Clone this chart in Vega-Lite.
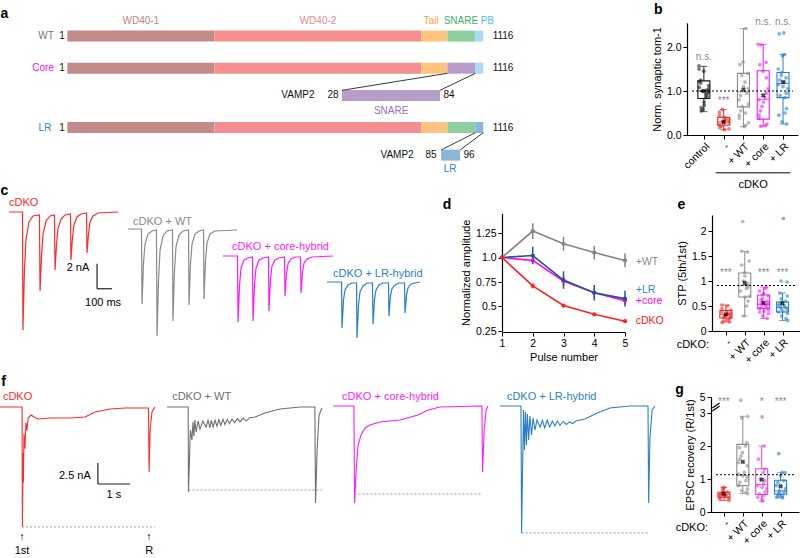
{
"$schema": "https://vega.github.io/schema/vega-lite/v6.json",
"width": 800, "height": 558,
"autosize": {"type": "none"},
"padding": 0,
"background": "white",
"config": {
  "view": {"stroke": null},
  "font": "Liberation Sans",
  "axis": {"grid": false, "domainColor": "#000", "tickColor": "#000", "labelColor": "#000", "titleColor": "#000", "labelFont": "Liberation Sans", "titleFont": "Liberation Sans", "labelFontSize": 10.5, "titleFontSize": 11, "titleFontWeight": "normal", "tickSize": 4, "labelPadding": 2, "titlePadding": 4, "domainWidth": 1.2, "tickWidth": 1, "labelOverlap": false, "labelFlush": false},
  "text": {"font": "Liberation Sans"}
},
"datasets": {
  "segs": [
    {"part":"WD40-1","row":0.97,"s":1,"e":395},
    {"part":"WD40-2","row":0.97,"s":395,"e":950},
    {"part":"Tail","row":0.97,"s":950,"e":1020},
    {"part":"SNARE","row":0.97,"s":1020,"e":1095},
    {"part":"PB","row":0.97,"s":1095,"e":1116},
    {"part":"WD40-1","row":1.97,"s":1,"e":395},
    {"part":"WD40-2","row":1.97,"s":395,"e":950},
    {"part":"Tail","row":1.97,"s":950,"e":1020},
    {"part":"VAMP2 SNARE","row":1.97,"s":1020,"e":1095},
    {"part":"PB","row":1.97,"s":1095,"e":1116},
    {"part":"VAMP2 SNARE","row":2.82,"s":737,"e":1000},
    {"part":"WD40-1","row":3.82,"s":1,"e":395},
    {"part":"WD40-2","row":3.82,"s":395,"e":950},
    {"part":"Tail","row":3.82,"s":950,"e":1020},
    {"part":"SNARE","row":3.82,"s":1020,"e":1095},
    {"part":"VAMP2 LR","row":3.82,"s":1095,"e":1116},
    {"part":"VAMP2 LR","row":4.68,"s":1003,"e":1054}
  ],
  "conn": [
    {"x0":1020,"y0":2.13,"x1":737,"y1":2.66},
    {"x0":1095,"y0":2.13,"x1":1000,"y1":2.66},
    {"x0":1095,"y0":3.98,"x1":1003,"y1":4.52},
    {"x0":1116,"y0":3.98,"x1":1054,"y1":4.52}
  ],
  "atext": [
    {"t":"WD40-1","x":198,"row":0.5,"k":"WD40-1"},
    {"t":"WD40-2","x":673,"row":0.5,"k":"WD40-2"},
    {"t":"Tail","x":976,"row":0.5,"k":"Tail"},
    {"t":"SNARE","x":1056,"row":0.5,"k":"SNARE"},
    {"t":"PB","x":1127,"row":0.5,"k":"PB"},
    {"t":"WT","x":-56,"row":0.97,"k":"WT"},
    {"t":"1","x":-13,"row":0.97,"k":"num"},
    {"t":"1116","x":1169,"row":0.97,"k":"num"},
    {"t":"Core","x":-64,"row":1.97,"k":"Core"},
    {"t":"1","x":-13,"row":1.97,"k":"num"},
    {"t":"1116","x":1169,"row":1.97,"k":"num"},
    {"t":"VAMP2","x":619,"row":2.82,"k":"num"},
    {"t":"28","x":713,"row":2.82,"k":"num"},
    {"t":"84","x":1024,"row":2.82,"k":"num"},
    {"t":"SNARE","x":869,"row":3.29,"k":"SNAREins"},
    {"t":"LR","x":-59,"row":3.82,"k":"LR"},
    {"t":"1","x":-13,"row":3.82,"k":"num"},
    {"t":"1116","x":1169,"row":3.82,"k":"num"},
    {"t":"VAMP2","x":885,"row":4.68,"k":"num"},
    {"t":"85","x":976,"row":4.68,"k":"num"},
    {"t":"96","x":1078,"row":4.68,"k":"num"},
    {"t":"LR","x":1027,"row":5.12,"k":"LRins"}
  ],
  "boxes": [
    {"panel":"b","grp":"control","idx":1,"lo":0.53,"q1":0.83,"med":1.0,"q3":1.23,"hi":1.56,"mean":1.0},
    {"panel":"b","grp":"-","idx":2,"lo":0.12,"q1":0.22,"med":0.3,"q3":0.4,"hi":0.58,"mean":0.3},
    {"panel":"b","grp":"+ WT","idx":3,"lo":0.19,"q1":0.64,"med":0.98,"q3":1.4,"hi":2.42,"mean":1.03},
    {"panel":"b","grp":"+ core","idx":4,"lo":0.2,"q1":0.36,"med":0.81,"q3":1.46,"hi":2.06,"mean":0.9},
    {"panel":"b","grp":"+ LR","idx":5,"lo":0.25,"q1":0.85,"med":1.17,"q3":1.42,"hi":1.83,"mean":1.2},
    {"panel":"e","grp":"-","idx":1,"lo":0.18,"q1":0.26,"med":0.33,"q3":0.41,"hi":0.52,"mean":0.33},
    {"panel":"e","grp":"+ WT","idx":2,"lo":0.3,"q1":0.68,"med":0.91,"q3":1.16,"hi":1.59,"mean":0.96},
    {"panel":"e","grp":"+ core","idx":3,"lo":0.25,"q1":0.45,"med":0.53,"q3":0.72,"hi":0.88,"mean":0.56},
    {"panel":"e","grp":"+ LR","idx":4,"lo":0.21,"q1":0.38,"med":0.47,"q3":0.58,"hi":0.76,"mean":0.55},
    {"panel":"g","grp":"-","idx":1,"lo":0.35,"q1":0.45,"med":0.53,"q3":0.6,"hi":0.75,"mean":0.55},
    {"panel":"g","grp":"+ WT","idx":2,"lo":0.56,"q1":0.8,"med":1.11,"q3":2.05,"hi":2.9,"mean":1.52},
    {"panel":"g","grp":"+ core","idx":3,"lo":0.33,"q1":0.53,"med":0.83,"q3":1.31,"hi":2.0,"mean":0.98},
    {"panel":"g","grp":"+ LR","idx":4,"lo":0.43,"q1":0.54,"med":0.64,"q3":0.96,"hi":1.19,"mean":0.78}
  ],
  "pts": [
    {"panel":"b","grp":"control","idx":1,"vals":[1.57,1.5,1.45,1.25,1.22,1.18,1.12,1.08,1.05,1.02,1.0,0.98,0.95,0.92,0.88,0.85,0.75,0.68,0.62,0.58,0.55]},
    {"panel":"b","grp":"-","idx":2,"vals":[0.58,0.52,0.45,0.4,0.36,0.35,0.33,0.3,0.28,0.26,0.24,0.2,0.17,0.14,0.12]},
    {"panel":"b","grp":"+ WT","idx":3,"vals":[2.42,1.66,1.6,1.4,1.35,1.2,1.1,1.05,0.95,0.9,0.8,0.7,0.65,0.55,0.5,0.45,0.38,0.28,0.22,0.19]},
    {"panel":"b","grp":"+ core","idx":4,"vals":[2.06,2.05,1.65,1.6,1.45,1.3,1.05,0.95,0.85,0.8,0.75,0.65,0.55,0.45,0.38,0.25,0.22,0.2]},
    {"panel":"b","grp":"+ LR","idx":5,"vals":[2.32,2.3,1.83,1.8,1.5,1.42,1.35,1.3,1.25,1.2,1.15,1.1,1.05,0.95,0.9,0.85,0.6,0.5,0.45,0.3,0.25]},
    {"panel":"e","grp":"-","idx":1,"vals":[0.52,0.5,0.45,0.42,0.4,0.38,0.36,0.35,0.33,0.32,0.3,0.28,0.27,0.25,0.22,0.2,0.18,0.17]},
    {"panel":"e","grp":"+ WT","idx":2,"vals":[2.19,1.6,1.58,1.4,1.32,1.17,1.1,1.0,0.95,0.92,0.88,0.85,0.8,0.7,0.68,0.6,0.5,0.3]},
    {"panel":"e","grp":"+ core","idx":3,"vals":[0.88,0.85,0.8,0.75,0.72,0.7,0.65,0.62,0.6,0.58,0.56,0.55,0.53,0.5,0.48,0.46,0.45,0.42,0.4,0.38,0.35,0.3,0.25]},
    {"panel":"e","grp":"+ LR","idx":4,"vals":[2.25,1.0,0.98,0.76,0.7,0.65,0.6,0.58,0.55,0.52,0.5,0.48,0.46,0.44,0.42,0.4,0.38,0.35,0.3,0.25,0.21]},
    {"panel":"g","grp":"-","idx":1,"vals":[0.75,0.72,0.65,0.6,0.58,0.55,0.52,0.5,0.47,0.45,0.42,0.38,0.35]},
    {"panel":"g","grp":"+ WT","idx":2,"vals":[4.6,2.9,2.85,2.1,2.0,1.95,1.8,1.7,1.6,1.5,1.4,1.2,1.15,1.1,1.05,0.95,0.9,0.8,0.7,0.65,0.6,0.56]},
    {"panel":"g","grp":"+ core","idx":3,"vals":[2.88,2.0,1.6,1.3,1.2,1.0,0.95,0.85,0.8,0.75,0.7,0.6,0.55,0.5,0.45,0.4,0.33]},
    {"panel":"g","grp":"+ LR","idx":4,"vals":[1.77,1.2,1.19,1.1,0.95,0.9,0.8,0.7,0.65,0.6,0.58,0.55,0.5,0.48,0.45,0.43]}
  ],
  "notes": [
    {"panel":"b","t":"n.s.","idx":1,"v":1.77},
    {"panel":"b","t":"***","idx":2,"v":0.78},
    {"panel":"b","t":"n.s.","idx":4,"v":2.57},
    {"panel":"b","t":"n.s.","idx":5,"v":2.57},
    {"panel":"e","t":"***","idx":1,"v":1.17},
    {"panel":"e","t":"***","idx":3,"v":1.17},
    {"panel":"e","t":"***","idx":4,"v":1.17},
    {"panel":"g","t":"***","idx":1,"v":4.4},
    {"panel":"g","t":"*","idx":3,"v":4.4},
    {"panel":"g","t":"***","idx":4,"v":4.4}
  ],
  "amp": [
    {"s":"+WT","p":[1,2,3,4,5],"m":[1,1.27,1.14,1.05,0.97],"e":[0,0.08,0.07,0.07,0.07]},
    {"s":"+core","p":[1,2,3,4,5],"m":[1,0.97,0.76,0.64,0.56],"e":[0,0.03,0.05,0.05,0.04]},
    {"s":"+LR","p":[1,2,3,4,5],"m":[1,1.02,0.77,0.64,0.58],"e":[0,0.09,0.09,0.08,0.08]},
    {"s":"cDKO","p":[1,2,3,4,5],"m":[1,0.71,0.51,0.42,0.35],"e":[0,0.025,0.012,0.01,0.01]}
  ],
  "dlab": [
    {"s":"+WT","v":0.95},
    {"s":"+LR","v":0.67},
    {"s":"+core","v":0.56},
    {"s":"cDKO","v":0.35}
  ],
  "ctr": [
    {"tr":"cDKO","t":[60,150,153,163,173,193,220,263,267,277,287,307,333,363,367,377,387,407,433,470,473,483,493,513,540,577,580,590,600,620,653,787],
     "i":[-3.36,-3.36,-12.8,-8.0,-5.6,-4.16,-3.68,-3.6,-9.68,-6.8,-5.12,-4.08,-3.68,-3.6,-8.0,-5.92,-4.64,-3.92,-3.6,-3.52,-7.2,-5.44,-4.4,-3.76,-3.52,-3.44,-6.64,-5.12,-4.16,-3.68,-3.44,-3.36]},
    {"tr":"cDKO + WT","t":[853,943,947,957,967,987,1013,1043,1047,1057,1067,1087,1113,1150,1153,1163,1173,1193,1220,1257,1260,1270,1280,1300,1327,1357,1360,1370,1380,1400,1433,1580],
     "i":[-4.72,-4.72,-10.72,-7.36,-5.92,-5.12,-4.88,-4.8,-13.28,-8.8,-6.4,-5.28,-4.88,-4.8,-12.08,-8.16,-6.16,-5.2,-4.88,-4.8,-10.8,-7.52,-5.92,-5.12,-4.88,-4.8,-10.32,-7.28,-5.84,-5.12,-4.88,-4.8]},
    {"tr":"cDKO + core-hybrid","t":[1487,1583,1587,1597,1607,1627,1653,1683,1687,1697,1707,1727,1753,1790,1793,1803,1813,1833,1860,1897,1900,1910,1920,1940,1967,2003,2007,2017,2027,2047,2080,2220],
     "i":[-6.88,-6.88,-12.16,-9.2,-7.84,-7.2,-7.04,-6.96,-12.08,-9.12,-7.84,-7.2,-7.04,-6.96,-11.28,-8.8,-7.68,-7.2,-7.04,-6.96,-10.08,-8.32,-7.52,-7.12,-6.96,-6.96,-9.84,-8.16,-7.44,-7.12,-6.96,-6.88]},
    {"tr":"cDKO + LR-hybrid","t":[2180,2277,2280,2290,2300,2320,2347,2377,2380,2390,2400,2420,2447,2483,2487,2497,2507,2527,2553,2590,2593,2603,2613,2633,2660,2697,2700,2710,2720,2740,2767,2800],
     "i":[-8.96,-8.96,-12.64,-10.4,-9.6,-9.2,-9.04,-9.04,-13.44,-10.8,-9.76,-9.28,-9.04,-9.04,-12.32,-10.32,-9.6,-9.2,-9.04,-9.04,-11.68,-10.08,-9.52,-9.2,-9.04,-9.04,-11.44,-10.0,-9.44,-9.12,-9.04,-8.96]}
  ],
  "clab": [
    {"tr":"cDKO","t":60,"i":-2.64},
    {"tr":"cDKO + WT","t":887,"i":-4.16},
    {"tr":"cDKO + core-hybrid","t":1547,"i":-6.16},
    {"tr":"cDKO + LR-hybrid","t":2220,"i":-8.32}
  ],
  "cbar": [
    {"x0":647,"x1":647,"y0":-7.5,"y1":-9.5},
    {"x0":647,"x1":747,"y0":-9.5,"y1":-9.5}
  ],
  "ctxt": [
    {"s":"2 nA","t":520,"i":-7.84},
    {"s":"100 ms","t":687,"i":-10.64}
  ],
  "ftr": [
    {"tr":"cDKO","t":[0,0.69,0.7,0.72,0.73,0.75,0.78,0.81,0.84,0.88,0.91,0.97,1.06,1.19,1.56,2.19,2.66,2.97,3.44,3.91,4.64,4.66,4.69,4.75,4.84],
     "i":[-2.02,-2.02,-16.31,-7.5,-11.0,-5.2,-7.0,-3.9,-4.8,-3.3,-3.21,-2.98,-3.21,-3.45,-3.33,-3.33,-3.21,-2.62,-2.26,-2.14,-2.14,-9.76,-4.76,-2.62,-2.02]},
    {"tr":"cDKO + WT","t":[5.22,5.88,5.89,5.92,5.95,6.0,6.03,6.06,6.09,6.13,6.19,6.25,6.34,6.44,6.5,6.56,6.6,6.66,6.72,6.78,6.84,6.9,6.97,7.03,7.1,7.17,7.25,7.33,7.42,7.5,7.6,7.7,7.8,7.97,8.28,8.75,9.38,9.84,9.86,9.91,9.97,10.06],
     "i":[-2.02,-2.02,-12.14,-8.33,-4.76,-5.95,-3.81,-5.48,-3.57,-5.0,-3.69,-4.64,-3.69,-4.4,-3.6,-4.5,-3.6,-4.4,-3.6,-4.3,-3.55,-4.2,-3.5,-4.1,-3.5,-4.0,-3.45,-3.9,-3.4,-3.8,-3.35,-3.7,-3.3,-3.21,-2.74,-2.26,-2.02,-2.02,-13.45,-7.14,-2.98,-2.14]},
    {"tr":"cDKO + core-hybrid","t":[10.41,11.06,11.08,11.13,11.19,11.28,11.41,11.56,11.88,12.5,13.06,13.38,13.75,15.06,15.08,15.13,15.19,15.25],
     "i":[-1.9,-1.9,-13.45,-9.52,-6.55,-5.36,-4.52,-4.17,-3.81,-3.57,-2.98,-2.38,-2.02,-1.9,-9.76,-4.76,-2.38,-1.9]},
    {"tr":"cDKO + LR-hybrid","t":[15.63,16.28,16.3,16.33,16.36,16.39,16.42,16.45,16.48,16.52,16.56,16.61,16.66,16.72,16.78,16.88,16.95,17.02,17.1,17.18,17.26,17.34,17.42,17.5,17.6,17.7,17.8,17.9,18.0,18.28,18.66,19.06,19.69,20.25,20.27,20.31,20.38,20.47],
     "i":[-1.9,-1.9,-17.02,-9.52,-2.38,-7.14,-2.62,-6.55,-2.86,-5.95,-3.1,-5.36,-3.33,-4.76,-3.57,-4.4,-3.6,-4.5,-3.6,-4.4,-3.7,-4.3,-3.7,-4.2,-3.75,-4.1,-3.8,-4.0,-3.7,-3.45,-2.74,-2.14,-1.9,-1.9,-13.45,-5.71,-2.38,-1.9]}
  ],
  "fdots": [
    {"tr":"cDKO","t0":0.69,"t1":4.84,"a":-16.31},
    {"tr":"cDKO + WT","t0":5.89,"t1":10.06,"a":-11.9},
    {"tr":"cDKO + core-hybrid","t0":11.08,"t1":15.06,"a":-12.38},
    {"tr":"cDKO + LR-hybrid","t0":16.3,"t1":20.25,"a":-17.02}
  ],
  "flab": [
    {"tr":"cDKO","t":0.09,"i":-0.83},
    {"tr":"cDKO + WT","t":5.38,"i":-0.83},
    {"tr":"cDKO + core-hybrid","t":10.69,"i":-0.83},
    {"tr":"cDKO + LR-hybrid","t":15.84,"i":-0.83}
  ],
  "fbar": [
    {"x0":3.06,"x1":3.06,"y0":-8.69,"y1":-11.19},
    {"x0":3.06,"x1":4.06,"y0":-11.19,"y1":-11.19}
  ],
  "ftxt": [
    {"s":"2.5 nA","t":2.34,"i":-10.24},
    {"s":"1 s","t":3.56,"i":-12.5},
    {"s":"↑","t":0.69,"i":-17.5},
    {"s":"1st","t":0.69,"i":-19.17},
    {"s":"↑","t":4.66,"i":-17.5},
    {"s":"R","t":4.66,"i":-19.17}
  ]
},
"resolve": {
  "scale": {"x": "independent", "y": "independent", "color": "independent", "fill": "independent", "stroke": "independent"},
  "axis": {"x": "independent", "y": "independent"},
  "legend": {"color": "independent", "fill": "independent"}
},
"layer": [
  {
    "layer": [
      {"data": {"name": "segs"}, "mark": {"type": "bar", "orient": "horizontal", "height": 11},
       "encoding": {
         "x": {"field": "s", "type": "quantitative", "scale": {"domain": [-179.6, 1482.6], "range": [0, 620], "nice": false, "zero": false}, "axis": null},
         "x2": {"field": "e"},
         "y": {"field": "row", "type": "quantitative", "scale": {"domain": [0, 5.3], "range": [0, 180], "nice": false, "zero": false}, "axis": null},
         "color": {"field": "part", "type": "nominal", "scale": {"domain": ["WD40-1","WD40-2","Tail","SNARE","PB","VAMP2 SNARE","VAMP2 LR"], "range": ["#c38a8a","#f58f8f","#fdc47f","#8fcf9f","#a8dbf7","#b79dca","#8cb5da"]}, "legend": null}
       }},
      {"data": {"name": "conn"}, "mark": {"type": "rule", "color": "#222", "strokeWidth": 0.9},
       "encoding": {"x": {"field": "x0", "type": "quantitative"}, "x2": {"field": "x1"}, "y": {"field": "y0", "type": "quantitative"}, "y2": {"field": "y1"}}},
      {"data": {"name": "atext"}, "mark": {"type": "text", "fontSize": 10, "baseline": "middle", "align": "center"},
       "encoding": {"x": {"field": "x", "type": "quantitative"}, "y": {"field": "row", "type": "quantitative"}, "text": {"field": "t"},
         "fill": {"field": "k", "type": "nominal", "scale": {"domain": ["WD40-1","WD40-2","Tail","SNARE","PB","WT","Core","LR","num","SNAREins","LRins"], "range": ["#c08585","#f28a8a","#f7a33a","#3cb36b","#4fc1f0","#777777","#ff00ff","#2f86d0","#111111","#9b6fbf","#2f86d0"]}, "legend": null}}},
      {"data": {"values": [{"t": "a"}]}, "mark": {"type": "text", "fontSize": 14, "fontWeight": "bold", "baseline": "middle", "align": "center"},
       "encoding": {"x": {"datum": -167.6}, "y": {"datum": 0.29}, "text": {"field": "t"}}}
    ]
  },
  {
    "layer": [
      {"data": {"name": "boxes"}, "transform": [{"filter": "datum.panel == 'b'"}], "mark": {"type": "rule", "strokeWidth": 1},
       "encoding": {
         "x": {"field": "idx", "type": "quantitative", "scale": {"domain": [0.4, 5.5], "range": [687, 797.9], "nice": false, "zero": false},
               "axis": {"orient": "bottom", "offset": -423, "values": [1,2,3,4,5], "labelExpr": "['','control','-','+ WT','+ core','+ LR'][datum.value]", "labelAngle": -45, "title": null}},
         "y": {"field": "lo", "type": "quantitative", "scale": {"domain": [0, 2.55], "range": [135, 22.8], "nice": false, "zero": false},
               "axis": {"orient": "left", "offset": -687, "values": [0,1,2], "title": "Norm. synaptic tom-1"}},
         "y2": {"field": "q1"},
         "color": {"field": "grp", "type": "nominal", "scale": {"domain": ["control","-","+ WT","+ core","+ LR"], "range": ["#1a1a1a","#f02828","#8c8c8c","#f21ef2","#2a7fca"]}, "legend": null}
       }},
      {"data": {"name": "boxes"}, "transform": [{"filter": "datum.panel == 'b'"}], "mark": {"type": "rule", "strokeWidth": 1},
       "encoding": {"x": {"field": "idx", "type": "quantitative"}, "y": {"field": "q3", "type": "quantitative"}, "y2": {"field": "hi"}, "color": {"field": "grp", "type": "nominal", "legend": null}}},
      {"data": {"name": "boxes"}, "transform": [{"filter": "datum.panel == 'b'"}, {"fold": ["lo", "hi"], "as": ["k", "w"]}], "mark": {"type": "tick", "orient": "horizontal", "size": 7, "thickness": 1},
       "encoding": {"x": {"field": "idx", "type": "quantitative"}, "y": {"field": "w", "type": "quantitative"}, "color": {"field": "grp", "type": "nominal", "legend": null}}},
      {"data": {"name": "boxes"}, "transform": [{"filter": "datum.panel == 'b'"}], "mark": {"type": "bar", "orient": "vertical", "width": 12, "filled": false, "strokeWidth": 1.1},
       "encoding": {"x": {"field": "idx", "type": "quantitative"}, "y": {"field": "q1", "type": "quantitative"}, "y2": {"field": "q3"}, "color": {"field": "grp", "type": "nominal", "legend": null}}},
      {"data": {"name": "boxes"}, "transform": [{"filter": "datum.panel == 'b'"}], "mark": {"type": "tick", "orient": "horizontal", "size": 12, "thickness": 1.2},
       "encoding": {"x": {"field": "idx", "type": "quantitative"}, "y": {"field": "med", "type": "quantitative"}, "color": {"field": "grp", "type": "nominal", "legend": null}}},
      {"data": {"name": "pts"}, "transform": [{"filter": "datum.panel == 'b'"}, {"flatten": ["vals"]}, {"calculate": "datum.idx + ((datum.vals * 71.37) % 1 - 0.5) * 0.55", "as": "xj"}],
       "mark": {"type": "circle", "size": 14, "opacity": 0.6},
       "encoding": {"x": {"field": "xj", "type": "quantitative"}, "y": {"field": "vals", "type": "quantitative"}, "color": {"field": "grp", "type": "nominal", "legend": null}}},
      {"data": {"name": "boxes"}, "transform": [{"filter": "datum.panel == 'b'"}], "mark": {"type": "point", "shape": "cross", "angle": 45, "size": 24, "filled": true, "color": "#000"},
       "encoding": {"x": {"field": "idx", "type": "quantitative"}, "y": {"field": "mean", "type": "quantitative"}}},
      {"data": {"values": [{"v": 1.0}]}, "mark": {"type": "rule", "strokeDash": [2, 2], "color": "#000", "strokeWidth": 1},
       "encoding": {"x": {"datum": 0.4}, "x2": {"datum": 5.5}, "y": {"field": "v", "type": "quantitative"}}},
      {"data": {"name": "notes"}, "transform": [{"filter": "datum.panel == 'b'"}], "mark": {"type": "text", "fontSize": 10, "color": "#8a8a8a", "baseline": "middle"},
       "encoding": {"x": {"field": "idx", "type": "quantitative"}, "y": {"field": "v", "type": "quantitative"}, "text": {"field": "t"}}},
      {"data": {"values": [{"t": "cDKO"}]}, "mark": {"type": "rule", "color": "#000", "strokeWidth": 1},
       "encoding": {"x": {"datum": 1.6}, "x2": {"datum": 5.37}, "y": {"datum": -0.86}}},
      {"data": {"values": [{"t": "cDKO"}]}, "mark": {"type": "text", "fontSize": 11, "baseline": "middle", "color": "#000"},
       "encoding": {"x": {"datum": 3.49}, "y": {"datum": -1.14}, "text": {"field": "t"}}},
      {"data": {"values": [{"t": "b"}]}, "mark": {"type": "text", "fontSize": 14, "fontWeight": "bold", "baseline": "middle", "align": "center"},
       "encoding": {"x": {"datum": -1.3}, "y": {"datum": 2.84}, "text": {"field": "t"}}}
    ]
  },
  {
    "layer": [
      {"data": {"name": "ctr"}, "transform": [{"flatten": ["t", "i"]}], "mark": {"type": "line", "strokeWidth": 1.2},
       "encoding": {
         "x": {"field": "t", "type": "quantitative", "scale": {"domain": [0, 2800], "range": [0, 420], "nice": false, "zero": false}, "axis": null},
         "y": {"field": "i", "type": "quantitative", "scale": {"domain": [-13.6, 0], "range": [340, 170], "nice": false, "zero": false}, "axis": null},
         "color": {"field": "tr", "type": "nominal", "scale": {"domain": ["cDKO","cDKO + WT","cDKO + core-hybrid","cDKO + LR-hybrid"], "range": ["#ff2a2a","#8a8a8a","#ff1aff","#2a7fc8"]}, "legend": null}
       }},
      {"data": {"name": "cbar"}, "mark": {"type": "rule", "color": "#222", "strokeWidth": 1.2},
       "encoding": {"x": {"field": "x0", "type": "quantitative"}, "x2": {"field": "x1"}, "y": {"field": "y0", "type": "quantitative"}, "y2": {"field": "y1"}}},
      {"data": {"name": "clab"}, "mark": {"type": "text", "fontSize": 11, "align": "left", "baseline": "middle"},
       "encoding": {"x": {"field": "t", "type": "quantitative"}, "y": {"field": "i", "type": "quantitative"}, "text": {"field": "tr"}, "color": {"field": "tr", "type": "nominal", "legend": null}}},
      {"data": {"name": "ctxt"}, "mark": {"type": "text", "fontSize": 11, "align": "center", "baseline": "middle", "color": "#000"},
       "encoding": {"x": {"field": "t", "type": "quantitative"}, "y": {"field": "i", "type": "quantitative"}, "text": {"field": "s"}}},
      {"data": {"values": [{"t": "c"}]}, "mark": {"type": "text", "fontSize": 14, "fontWeight": "bold", "baseline": "middle", "align": "center"},
       "encoding": {"x": {"datum": 30}, "y": {"datum": -1.68}, "text": {"field": "t"}}}
    ]
  },
  {
    "layer": [
      {"data": {"name": "amp"}, "transform": [{"flatten": ["p", "m", "e"]}, {"calculate": "datum.m - datum.e", "as": "lo"}, {"calculate": "datum.m + datum.e", "as": "hi"}],
       "mark": {"type": "rule", "strokeWidth": 1.5},
       "encoding": {
         "x": {"field": "p", "type": "quantitative", "scale": {"domain": [1, 5], "range": [502, 625], "nice": false, "zero": false},
               "axis": {"orient": "bottom", "offset": -226, "values": [1,2,3,4,5], "format": "d", "title": "Pulse number", "titlePadding": 3, "labelAngle": 0}},
         "y": {"field": "lo", "type": "quantitative", "scale": {"domain": [0.25, 1.45], "range": [331, 213.4], "nice": false, "zero": false},
               "axis": {"orient": "left", "offset": -502, "values": [0.25, 0.5, 0.75, 1, 1.25], "labelExpr": "datum.value == 1 ? '1.0' : toString(datum.value)", "title": "Normalized amplitude"}},
         "y2": {"field": "hi"},
         "color": {"field": "s", "type": "nominal", "scale": {"domain": ["+WT","+core","+LR","cDKO"], "range": ["#858585","#ff00ff","#22578a","#ff2020"]}, "legend": null}
       }},
      {"data": {"name": "amp"}, "transform": [{"flatten": ["p", "m", "e"]}], "mark": {"type": "line", "strokeWidth": 1.6},
       "encoding": {"x": {"field": "p", "type": "quantitative"}, "y": {"field": "m", "type": "quantitative"}, "color": {"field": "s", "type": "nominal", "legend": null}}},
      {"data": {"name": "amp"}, "transform": [{"flatten": ["p", "m", "e"]}], "mark": {"type": "circle", "size": 18, "opacity": 1},
       "encoding": {"x": {"field": "p", "type": "quantitative"}, "y": {"field": "m", "type": "quantitative"}, "color": {"field": "s", "type": "nominal", "legend": null}}},
      {"data": {"name": "dlab"}, "mark": {"type": "text", "fontSize": 10.5, "align": "left", "baseline": "middle"},
       "encoding": {"x": {"datum": 5.35}, "y": {"field": "v", "type": "quantitative"}, "text": {"field": "s"},
         "fill": {"field": "s", "type": "nominal", "scale": {"domain": ["+WT","+core","+LR","cDKO"], "range": ["#8a8a8a","#ff00ff","#2f86d0","#ff2020"]}, "legend": null}}},
      {"data": {"values": [{"t": "d"}]}, "mark": {"type": "text", "fontSize": 14, "fontWeight": "bold", "baseline": "middle", "align": "center"},
       "encoding": {"x": {"datum": -0.79}, "y": {"datum": 1.536}, "text": {"field": "t"}}}
    ]
  },
  {
    "layer": [
      {"data": {"name": "boxes"}, "transform": [{"filter": "datum.panel == 'e'"}], "mark": {"type": "rule", "strokeWidth": 1},
       "encoding": {
         "x": {"field": "idx", "type": "quantitative", "scale": {"domain": [0.53, 4.66], "range": [712, 800], "nice": false, "zero": false},
               "axis": {"orient": "bottom", "offset": -227, "values": [1,2,3,4], "labelExpr": "['','-','+ WT','+ core','+ LR'][datum.value]", "labelAngle": -45, "title": null}},
         "y": {"field": "lo", "type": "quantitative", "scale": {"domain": [0, 2.32], "range": [331, 215], "nice": false, "zero": false},
               "axis": {"orient": "left", "offset": -712, "values": [0, 0.5, 1, 1.5, 2], "labelExpr": "toString(datum.value)", "title": "STP  (5th/1st)"}},
         "y2": {"field": "q1"},
         "color": {"field": "grp", "type": "nominal", "scale": {"domain": ["control","-","+ WT","+ core","+ LR"], "range": ["#1a1a1a","#f02828","#8c8c8c","#f21ef2","#2a7fca"]}, "legend": null}
       }},
      {"data": {"name": "boxes"}, "transform": [{"filter": "datum.panel == 'e'"}], "mark": {"type": "rule", "strokeWidth": 1},
       "encoding": {"x": {"field": "idx", "type": "quantitative"}, "y": {"field": "q3", "type": "quantitative"}, "y2": {"field": "hi"}, "color": {"field": "grp", "type": "nominal", "legend": null}}},
      {"data": {"name": "boxes"}, "transform": [{"filter": "datum.panel == 'e'"}, {"fold": ["lo", "hi"], "as": ["k", "w"]}], "mark": {"type": "tick", "orient": "horizontal", "size": 7, "thickness": 1},
       "encoding": {"x": {"field": "idx", "type": "quantitative"}, "y": {"field": "w", "type": "quantitative"}, "color": {"field": "grp", "type": "nominal", "legend": null}}},
      {"data": {"name": "boxes"}, "transform": [{"filter": "datum.panel == 'e'"}], "mark": {"type": "bar", "orient": "vertical", "width": 12, "filled": false, "strokeWidth": 1.1},
       "encoding": {"x": {"field": "idx", "type": "quantitative"}, "y": {"field": "q1", "type": "quantitative"}, "y2": {"field": "q3"}, "color": {"field": "grp", "type": "nominal", "legend": null}}},
      {"data": {"name": "boxes"}, "transform": [{"filter": "datum.panel == 'e'"}], "mark": {"type": "tick", "orient": "horizontal", "size": 12, "thickness": 1.2},
       "encoding": {"x": {"field": "idx", "type": "quantitative"}, "y": {"field": "med", "type": "quantitative"}, "color": {"field": "grp", "type": "nominal", "legend": null}}},
      {"data": {"name": "pts"}, "transform": [{"filter": "datum.panel == 'e'"}, {"flatten": ["vals"]}, {"calculate": "datum.idx + ((datum.vals * 71.37) % 1 - 0.5) * 0.55", "as": "xj"}],
       "mark": {"type": "circle", "size": 14, "opacity": 0.6},
       "encoding": {"x": {"field": "xj", "type": "quantitative"}, "y": {"field": "vals", "type": "quantitative"}, "color": {"field": "grp", "type": "nominal", "legend": null}}},
      {"data": {"name": "boxes"}, "transform": [{"filter": "datum.panel == 'e'"}], "mark": {"type": "point", "shape": "cross", "angle": 45, "size": 24, "filled": true, "color": "#000"},
       "encoding": {"x": {"field": "idx", "type": "quantitative"}, "y": {"field": "mean", "type": "quantitative"}}},
      {"data": {"values": [{"v": 0.91}]}, "mark": {"type": "rule", "strokeDash": [2, 2], "color": "#000", "strokeWidth": 1},
       "encoding": {"x": {"datum": 0.53}, "x2": {"datum": 4.66}, "y": {"field": "v", "type": "quantitative"}}},
      {"data": {"name": "notes"}, "transform": [{"filter": "datum.panel == 'e'"}], "mark": {"type": "text", "fontSize": 10, "color": "#8a8a8a", "baseline": "middle"},
       "encoding": {"x": {"field": "idx", "type": "quantitative"}, "y": {"field": "v", "type": "quantitative"}, "text": {"field": "t"}}},
      {"data": {"values": [{"t": "cDKO:"}]}, "mark": {"type": "text", "fontSize": 11, "baseline": "middle", "align": "right", "color": "#000"},
       "encoding": {"x": {"datum": 0.11}, "y": {"datum": -0.28}, "text": {"field": "t"}}},
      {"data": {"values": [{"t": "e"}]}, "mark": {"type": "text", "fontSize": 14, "fontWeight": "bold", "baseline": "middle", "align": "center"},
       "encoding": {"x": {"datum": -1.35}, "y": {"datum": 2.52}, "text": {"field": "t"}}}
    ]
  },
  {
    "layer": [
      {"data": {"name": "ftr"}, "transform": [{"flatten": ["t", "i"]}], "mark": {"type": "line", "strokeWidth": 1.1},
       "encoding": {
         "x": {"field": "t", "type": "quantitative", "scale": {"domain": [0, 20.5], "range": [0, 656], "nice": false, "zero": false}, "axis": null},
         "y": {"field": "i", "type": "quantitative", "scale": {"domain": [-20, 0], "range": [558, 390], "nice": false, "zero": false}, "axis": null},
         "color": {"field": "tr", "type": "nominal", "scale": {"domain": ["cDKO","cDKO + WT","cDKO + core-hybrid","cDKO + LR-hybrid"], "range": ["#ff2a2a","#707070","#ff1aff","#2a7fc8"]}, "legend": null}
       }},
      {"data": {"name": "fdots"}, "mark": {"type": "rule", "strokeDash": [2, 2], "color": "#999", "strokeWidth": 1},
       "encoding": {"x": {"field": "t0", "type": "quantitative"}, "x2": {"field": "t1"}, "y": {"field": "a", "type": "quantitative"}}},
      {"data": {"name": "fbar"}, "mark": {"type": "rule", "color": "#222", "strokeWidth": 1.2},
       "encoding": {"x": {"field": "x0", "type": "quantitative"}, "x2": {"field": "x1"}, "y": {"field": "y0", "type": "quantitative"}, "y2": {"field": "y1"}}},
      {"data": {"name": "flab"}, "mark": {"type": "text", "fontSize": 11, "align": "left", "baseline": "middle"},
       "encoding": {"x": {"field": "t", "type": "quantitative"}, "y": {"field": "i", "type": "quantitative"}, "text": {"field": "tr"}, "color": {"field": "tr", "type": "nominal", "legend": null}}},
      {"data": {"name": "ftxt"}, "mark": {"type": "text", "fontSize": 11, "align": "center", "baseline": "middle", "color": "#000"},
       "encoding": {"x": {"field": "t", "type": "quantitative"}, "y": {"field": "i", "type": "quantitative"}, "text": {"field": "s"}}},
      {"data": {"values": [{"t": "f"}]}, "mark": {"type": "text", "fontSize": 14, "fontWeight": "bold", "baseline": "middle", "align": "center"},
       "encoding": {"x": {"datum": 0.11}, "y": {"datum": 0.95}, "text": {"field": "t"}}}
    ]
  },
  {
    "layer": [
      {"data": {"name": "boxes"}, "transform": [{"filter": "datum.panel == 'g'"}], "mark": {"type": "rule", "strokeWidth": 1},
       "encoding": {
         "x": {"field": "idx", "type": "quantitative", "scale": {"domain": [0.58, 4.71], "range": [711, 799], "nice": false, "zero": false},
               "axis": {"orient": "bottom", "offset": -46, "values": [1,2,3,4], "labelExpr": "['','-','+ WT','+ core','+ LR'][datum.value]", "labelAngle": -45, "title": null}},
         "y": {"field": "lo", "type": "quantitative", "scale": {"domain": [0, 3, 5], "range": [512, 413, 397], "nice": false, "zero": false},
               "axis": {"orient": "left", "offset": -711, "values": [0, 1, 2, 3, 5], "labelExpr": "toString(datum.value)", "title": "EPSC recovery (R/1st)"}},
         "y2": {"field": "q1"},
         "color": {"field": "grp", "type": "nominal", "scale": {"domain": ["control","-","+ WT","+ core","+ LR"], "range": ["#1a1a1a","#f02828","#8c8c8c","#e040d8","#2a7fca"]}, "legend": null}
       }},
      {"data": {"name": "boxes"}, "transform": [{"filter": "datum.panel == 'g'"}], "mark": {"type": "rule", "strokeWidth": 1},
       "encoding": {"x": {"field": "idx", "type": "quantitative"}, "y": {"field": "q3", "type": "quantitative"}, "y2": {"field": "hi"}, "color": {"field": "grp", "type": "nominal", "legend": null}}},
      {"data": {"name": "boxes"}, "transform": [{"filter": "datum.panel == 'g'"}, {"fold": ["lo", "hi"], "as": ["k", "w"]}], "mark": {"type": "tick", "orient": "horizontal", "size": 7, "thickness": 1},
       "encoding": {"x": {"field": "idx", "type": "quantitative"}, "y": {"field": "w", "type": "quantitative"}, "color": {"field": "grp", "type": "nominal", "legend": null}}},
      {"data": {"name": "boxes"}, "transform": [{"filter": "datum.panel == 'g'"}], "mark": {"type": "bar", "orient": "vertical", "width": 12, "filled": false, "strokeWidth": 1.1},
       "encoding": {"x": {"field": "idx", "type": "quantitative"}, "y": {"field": "q1", "type": "quantitative"}, "y2": {"field": "q3"}, "color": {"field": "grp", "type": "nominal", "legend": null}}},
      {"data": {"name": "boxes"}, "transform": [{"filter": "datum.panel == 'g'"}], "mark": {"type": "tick", "orient": "horizontal", "size": 12, "thickness": 1.2},
       "encoding": {"x": {"field": "idx", "type": "quantitative"}, "y": {"field": "med", "type": "quantitative"}, "color": {"field": "grp", "type": "nominal", "legend": null}}},
      {"data": {"name": "pts"}, "transform": [{"filter": "datum.panel == 'g'"}, {"flatten": ["vals"]}, {"calculate": "datum.idx + ((datum.vals * 71.37) % 1 - 0.5) * 0.55", "as": "xj"}],
       "mark": {"type": "circle", "size": 14, "opacity": 0.6},
       "encoding": {"x": {"field": "xj", "type": "quantitative"}, "y": {"field": "vals", "type": "quantitative"}, "color": {"field": "grp", "type": "nominal", "legend": null}}},
      {"data": {"name": "boxes"}, "transform": [{"filter": "datum.panel == 'g'"}], "mark": {"type": "point", "shape": "cross", "angle": 45, "size": 24, "filled": true, "color": "#000"},
       "encoding": {"x": {"field": "idx", "type": "quantitative"}, "y": {"field": "mean", "type": "quantitative"}}},
      {"data": {"values": [{"v": 1.13}]}, "mark": {"type": "rule", "strokeDash": [2, 2], "color": "#000", "strokeWidth": 1},
       "encoding": {"x": {"datum": 0.58}, "x2": {"datum": 4.71}, "y": {"field": "v", "type": "quantitative"}}},
      {"data": {"values": [{"k": "break"}]}, "mark": {"type": "rule", "color": "#000", "strokeWidth": 1.2},
       "encoding": {"x": {"datum": 0.39}, "x2": {"datum": 0.77}, "y": {"datum": 3.25}, "y2": {"datum": 3.875}}},
      {"data": {"values": [{"k": "break"}]}, "mark": {"type": "rule", "color": "#000", "strokeWidth": 1.2},
       "encoding": {"x": {"datum": 0.39}, "x2": {"datum": 0.77}, "y": {"datum": 3.625}, "y2": {"datum": 4.25}}},
      {"data": {"name": "notes"}, "transform": [{"filter": "datum.panel == 'g'"}], "mark": {"type": "text", "fontSize": 10, "color": "#8a8a8a", "baseline": "middle"},
       "encoding": {"x": {"field": "idx", "type": "quantitative"}, "y": {"field": "v", "type": "quantitative"}, "text": {"field": "t"}}},
      {"data": {"values": [{"t": "cDKO:"}]}, "mark": {"type": "text", "fontSize": 11, "baseline": "middle", "align": "right", "color": "#000"},
       "encoding": {"x": {"datum": 0.16}, "y": {"datum": -0.48}, "text": {"field": "t"}}},
      {"data": {"values": [{"t": "g"}]}, "mark": {"type": "text", "fontSize": 14, "fontWeight": "bold", "baseline": "middle", "align": "center"},
       "encoding": {"x": {"datum": -1.345}, "y": {"datum": 5.875}, "text": {"field": "t"}}}
    ]
  }
]
}
